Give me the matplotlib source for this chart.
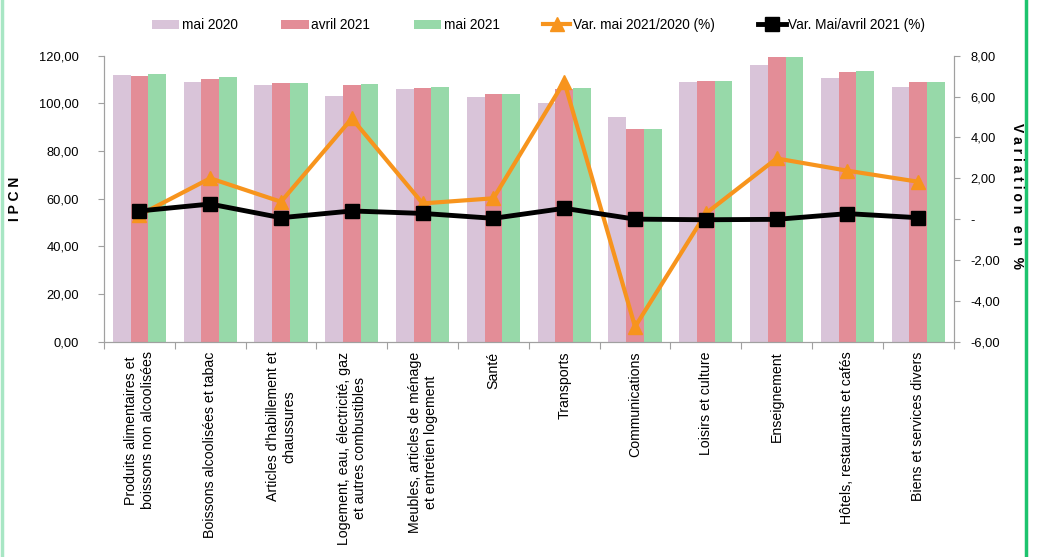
import numpy as np
import matplotlib.pyplot as plt
from matplotlib.ticker import FuncFormatter
from matplotlib.lines import Line2D

plt.rcParams['font.family'] = ['Liberation Sans', 'DejaVu Sans']
plt.rcParams['font.size'] = 9

categories = [
    "Produits alimentaires et\nboissons non alcoolisées",
    "Boissons alcoolisées et tabac",
    "Articles d'habillement et\nchaussures",
    "Logement, eau, électricité, gaz\net autres combustibles",
    "Meubles, articles de ménage\net entretien logement",
    "Santé",
    "Transports",
    "Communications",
    "Loisirs et culture",
    "Enseignement",
    "Hôtels, restaurants et cafés",
    "Biens et services divers",
]
mai_2020 = [112.0, 109.0, 107.7, 103.1, 105.9, 102.8, 100.0, 94.4, 109.0, 116.1, 110.7, 107.0]
avril_2021 = [111.6, 110.2, 108.6, 107.7, 106.3, 103.9, 106.0, 89.4, 109.4, 119.6, 113.0, 109.0]
mai_2021 = [112.3, 111.1, 108.7, 108.1, 106.7, 103.9, 106.5, 89.4, 109.4, 119.6, 113.4, 109.0]
var_mai = [0.2, 2.0, 0.85, 4.93, 0.77, 1.02, 6.73, -5.27, 0.28, 2.97, 2.37, 1.83]
var_avril = [0.40, 0.74, 0.07, 0.40, 0.28, 0.04, 0.53, 0.0, -0.03, -0.01, 0.27, 0.07]

c_2020 = '#d9c4d9'
c_avr = '#e38d97'
c_2021 = '#97d9a9'
c_orange = '#f7941d'
grey = '#a0a0a0'

fig = plt.figure(figsize=(10.4, 5.57), dpi=100)
ax = fig.add_axes([0.1, 0.3865, 0.817, 0.5135])
ax2 = ax.twinx()

x = np.arange(len(categories))
w = 0.25
ax.bar(x - w, mai_2020, w, color=c_2020, label='mai 2020')
ax.bar(x, avril_2021, w, color=c_avr, label='avril 2021')
ax.bar(x + w, mai_2021, w, color=c_2021, label='mai 2021')

ax2.plot(x, var_mai, color=c_orange, lw=3, marker='^', ms=10, label='Var. mai 2021/2020 (%)')
ax2.plot(x, var_avril, color='black', lw=3.5, marker='s', ms=10, label='Var. Mai/avril 2021 (%)')

ax.set_xlim(-0.5, len(categories) - 0.5)
ax.set_ylim(0, 120)
ax.set_yticks(np.arange(0, 121, 20))
ax.yaxis.set_major_formatter(FuncFormatter(lambda v, p: f"{v:.2f}".replace('.', ',')))
ax2.set_ylim(-6, 8)
ax2.set_yticks(np.arange(-6, 9, 2))
ax2.yaxis.set_major_formatter(FuncFormatter(
    lambda v, p: '-' if abs(v) < 1e-9 else f"{v:.2f}".replace('.', ',')))

ax.set_xticks(np.arange(-0.5, len(categories), 1))
ax.set_xticklabels([])
ax.set_xticks(x, minor=True)
ax.set_xticklabels(categories, minor=True, rotation=90, ha='center', va='top',
                   multialignment='center', fontsize=10.2)
ax.tick_params(axis='x', which='minor', length=0, pad=7)
ax.tick_params(axis='x', which='major', length=5, color=grey)
ax.tick_params(axis='y', length=4, color=grey, labelsize=9.3, pad=14)
ax2.tick_params(axis='y', length=4, color=grey, labelsize=9.3, pad=8)

for a in (ax, ax2):
    a.spines['top'].set_visible(False)
    for s in ('left', 'right', 'bottom'):
        a.spines[s].set_color(grey)

ax.set_ylabel('I P C N', fontweight='bold', fontsize=10, labelpad=12)
fig.text(0.978, 0.648, 'V a r i a t i o n   e n   %', rotation=-90, fontweight='bold',
         fontsize=10, ha='center', va='center')

h1, l1 = ax.get_legend_handles_labels()
h2, l2 = ax2.get_legend_handles_labels()
fig.legend(h1 + h2, l1 + l2, loc='center', bbox_to_anchor=(0.518, 0.955), ncol=5,
           frameon=False, fontsize=9.8, handlelength=2.0, columnspacing=3.2,
           handletextpad=0.2)

fig.add_artist(Line2D([0.0015, 0.0015], [0, 1], transform=fig.transFigure,
                      color='#a8e6c4', lw=2.5))
fig.add_artist(Line2D([0.987, 0.987], [0, 1], transform=fig.transFigure,
                      color='#1dc36e', lw=2.5))

fig.savefig('out.png', dpi=100)
